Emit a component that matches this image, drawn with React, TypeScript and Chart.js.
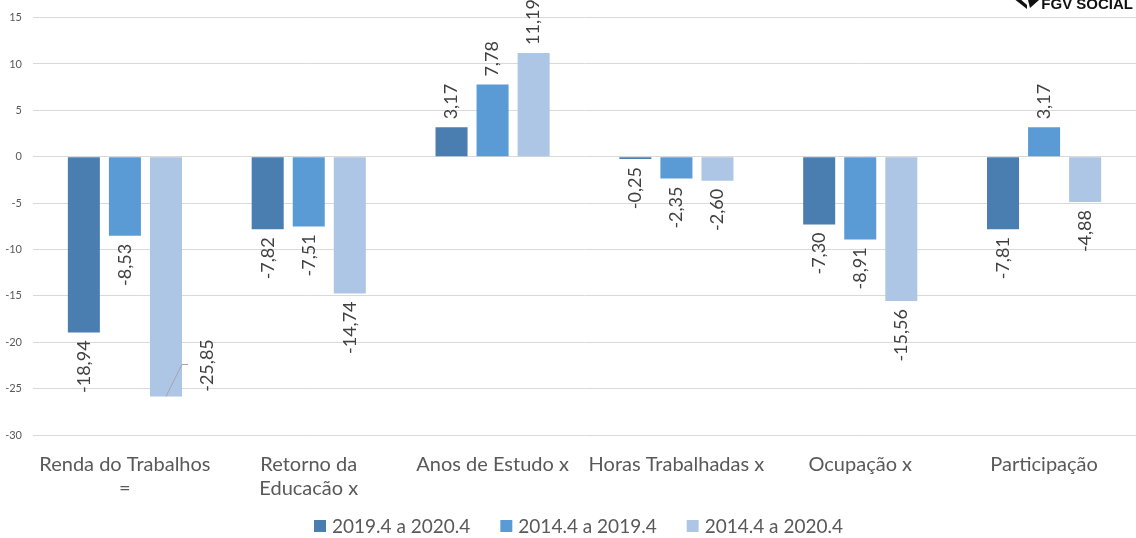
import React, { useEffect, useRef } from "react";
import { Chart, registerables } from "chart.js";

Chart.register(...registerables);

const categories: (string | string[])[] = [
  ["Renda do Trabalhos", "="],
  ["Retorno da", "Educação x"],
  "Anos de Estudo x",
  "Horas Trabalhadas x",
  "Ocupação x",
  "Participação",
];
const seriesNames = ["2019.4 a 2020.4", "2014.4 a 2019.4", "2014.4 a 2020.4"];
const series2019to2020 = [-18.94, -7.82, 3.17, -0.25, -7.3, -7.81];
const series2014to2019 = [-8.53, -7.51, 7.78, -2.35, -8.91, 3.17];
const series2014to2020 = [-25.85, -14.74, 11.19, -2.6, -15.56, -4.88];
const seriesColors = ["#4a7eb0", "#5b9bd5", "#adc6e6"];
const yTicks = { min: -30, max: 15, step: 5 };

const FONT = "Lato, 'Open Sans', sans-serif";
const fmt = (v: number) => v.toFixed(2).replace(".", ",");

const labelPlugin = {
  id: "valueLabels",
  afterDatasetsDraw(chart: any) {
    const ctx = chart.ctx;
    ctx.save();
    ctx.fillStyle = "#404040";
    ctx.font = `18px ${FONT}`;
    const gap = 8;
    chart.data.datasets.forEach((ds: any, di: number) => {
      const meta = chart.getDatasetMeta(di);
      meta.data.forEach((bar: any, i: number) => {
        const v = ds.data[i] as number;
        const text = fmt(v);
        ctx.save();
        if (di === 2 && i === 0) {
          // callout label moved beside the bar
          ctx.strokeStyle = "#a6a6a6";
          ctx.lineWidth = 1;
          ctx.beginPath();
          ctx.moveTo(bar.x, bar.y);
          ctx.lineTo(bar.x + 16, bar.y - 32);
          ctx.lineTo(bar.x + 22, bar.y - 32);
          ctx.stroke();
          ctx.translate(bar.x + 41, bar.y - 31);
          ctx.rotate(-Math.PI / 2);
          ctx.textAlign = "center";
          ctx.textBaseline = "middle";
          ctx.fillText(text, 0, 0);
        } else {
          const y = v < 0 ? bar.y + gap : bar.y - gap;
          ctx.translate(bar.x, y);
          ctx.rotate(-Math.PI / 2);
          ctx.textAlign = v < 0 ? "right" : "left";
          ctx.textBaseline = "middle";
          ctx.fillText(text, 0, 0);
        }
        ctx.restore();
      });
    });
    ctx.restore();
  },
};

const legendPlugin = {
  id: "customLegend",
  afterDraw(chart: any) {
    const ctx = chart.ctx;
    const ca = chart.chartArea;
    ctx.save();
    ctx.font = `19px ${FONT}`;
    ctx.textBaseline = "middle";
    ctx.textAlign = "left";
    const box = 12;
    const boxGap = 6;
    const itemGap = 30;
    const widths = seriesNames.map((n) => ctx.measureText(n).width);
    const total =
      widths.reduce((a, w) => a + box + boxGap + w, 0) + itemGap * (seriesNames.length - 1);
    let x = (ca.left + ca.right) / 2 - total / 2 - 6;
    const cy = chart.height - 12;
    seriesNames.forEach((n, i) => {
      ctx.fillStyle = seriesColors[i];
      ctx.fillRect(x, cy - box / 2, box, box);
      ctx.fillStyle = "#595959";
      ctx.fillText(n, x + box + boxGap, cy + 1);
      x += box + boxGap + widths[i] + itemGap;
    });
    ctx.restore();
  },
};

const logoPlugin = {
  id: "logo",
  afterDraw(chart: any) {
    const ctx = chart.ctx;
    ctx.save();
    ctx.fillStyle = "#111111";
    ctx.font = `bold 15px 'Liberation Sans', Arial, sans-serif`;
    ctx.textAlign = "right";
    ctx.textBaseline = "alphabetic";
    ctx.fillText("FGV SOCIAL", 1133, 9);
    ctx.beginPath();
    ctx.moveTo(1013, -2);
    ctx.lineTo(1019, -2);
    ctx.lineTo(1027, 5);
    ctx.lineTo(1027, 9);
    ctx.closePath();
    ctx.fill();
    ctx.beginPath();
    ctx.moveTo(1028, 0);
    ctx.lineTo(1039, 0);
    ctx.lineTo(1030, 8);
    ctx.closePath();
    ctx.fill();
    ctx.restore();
  },
};

export default function App() {
  const ref = useRef<HTMLCanvasElement | null>(null);
  useEffect(() => {
    if (!ref.current) return;
    const chart = new Chart(ref.current, {
      type: "bar",
      data: {
        labels: categories,
        datasets: [series2019to2020, series2014to2019, series2014to2020].map((d, i) => ({
          label: seriesNames[i],
          data: d,
          backgroundColor: seriesColors[i],
          borderWidth: 0,
          categoryPercentage: 0.67,
          barPercentage: 0.78,
        })),
      },
      options: {
        animation: false,
        responsive: true,
        maintainAspectRatio: false,
        layout: { padding: { top: 17, right: 0, bottom: 43, left: 0 } },
        plugins: {
          legend: { display: false },
          tooltip: { enabled: false },
          title: { display: false },
        },
        scales: {
          x: {
            grid: { display: false },
            border: { display: false },
            ticks: {
              color: "#595959",
              font: { family: FONT, size: 20 },
              maxRotation: 0,
              minRotation: 0,
              autoSkip: false,
              padding: 10,
            },
            afterFit: (s: any) => {
              s.height = 60;
            },
          },
          y: {
            min: yTicks.min,
            max: yTicks.max,
            grid: { color: "#d9d9d9", drawTicks: false, lineWidth: 1 },
            border: { display: false },
            ticks: {
              stepSize: yTicks.step,
              color: "#595959",
              font: { family: FONT, size: 11 },
              padding: 11,
            },
            afterFit: (s: any) => {
              s.width = 33;
            },
          },
        },
      },
      plugins: [labelPlugin, legendPlugin, logoPlugin],
    });
    return () => chart.destroy();
  }, []);
  return (
    <div style={{ position: "fixed", left: 0, top: 0, width: 1136, height: 538, background: "#fff" }}>
      <canvas ref={ref} />
    </div>
  );
}
